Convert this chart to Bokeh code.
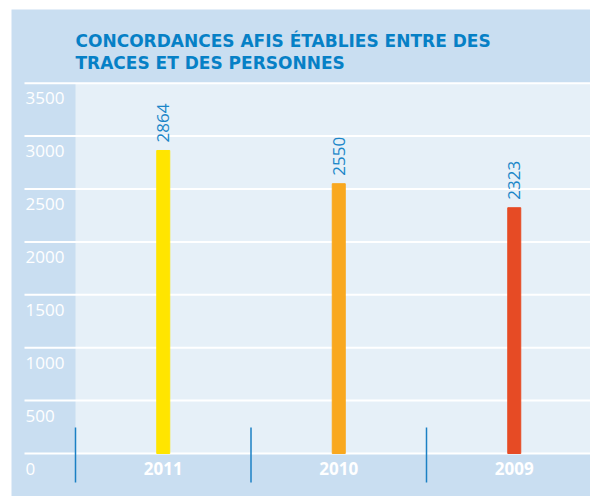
import numpy as np
from bokeh.plotting import figure
from bokeh.models import Range1d, ColumnDataSource
from bokeh.core.properties import value
from bokeh.embed import file_html
from bokeh.resources import INLINE

# ---- data ----
years = ["2011", "2010", "2009"]
counts = [2864, 2550, 2323]
bar_colors = ["#FFE500", "#F9A81F", "#E64B25"]
y_ticks = [0, 500, 1000, 1500, 2000, 2500, 3000, 3500]
title_lines = ["CONCORDANCES AFIS ÉTABLIES ENTRE DES", "TRACES ET DES PERSONNES"]

# ---- styling / layout constants ----
W, H = 590, 496
PX_X = 175.5          # pixels per category
PX_Y = 52.9 / 500     # pixels per unit
X0 = 75               # px of category boundary 0
Y0 = 453              # px (from top) of value 0
DARK = "#C9DEF1"
LIGHT = "#E6F0F8"
BLUE = "#1B80C4"
FONT = "Open Sans"

xr = Range1d(-X0 / PX_X, (W - X0) / PX_X)
yr = Range1d(-(H - Y0) / PX_Y, Y0 / PX_Y)

p = figure(width=W, height=H, x_range=xr, y_range=yr, output_backend="svg",
           toolbar_location=None, min_border=0, outline_line_color=None,
           background_fill_color="white", border_fill_color="white")
p.axis.visible = False
p.grid.visible = False

# dark box and light plot area
p.quad(left=[(11 - X0) / PX_X], right=[xr.end], bottom=[yr.start], top=[(Y0 - 9) / PX_Y],
       fill_color=DARK, line_color=None)
p.quad(left=[0], right=[xr.end], bottom=[0], top=[max(y_ticks)],
       fill_color=LIGHT, line_color=None)

# gridlines
gx0 = (24 - X0) / PX_X
p.segment(x0=[gx0] * len(y_ticks), x1=[xr.end] * len(y_ticks), y0=y_ticks, y1=y_ticks,
          line_color="white", line_width=2)

# y labels (below gridlines)
p.text(x=[(25 - X0) / PX_X] * len(y_ticks), y=y_ticks, text=[str(t) for t in y_ticks],
       text_font=value(FONT), text_font_size="17px", text_color="white",
       text_align="left", text_baseline="middle", y_offset=15)

# bars
xs = np.arange(len(years)) + 0.5
src = ColumnDataSource(dict(x=xs, top=counts, color=bar_colors, label=[str(c) for c in counts],
                            year=years))
p.vbar(x="x", top="top", bottom=0, width=13 / PX_X, color="color", source=src)

# value labels
p.text(x="x", y="top", text="label", source=src, angle=np.pi / 2,
       text_font=value(FONT), text_font_size="17px", text_color="#1B86C8",
       text_align="left", text_baseline="middle", y_offset=-8)

# category labels
p.text(x="x", y=0, text="year", source=src, text_font=value(FONT), text_font_size="17px",
       text_font_style="bold", text_color="white", text_align="center",
       text_baseline="middle", y_offset=15)

# separators
seps = np.arange(len(years))
p.segment(x0=seps, x1=seps, y0=[-29 / PX_Y] * len(seps), y1=[26 / PX_Y] * len(seps),
          line_color=BLUE, line_width=1.5)

# title
p.text(x=[0, 0], y=[(Y0 - 40) / PX_Y, (Y0 - 62.5) / PX_Y], text=title_lines,
       text_font=value("DejaVu Sans"), text_font_size="17px", text_font_style="bold",
       text_color="#0680C6", text_align="left", text_baseline="alphabetic")

open("out.html", "w").write(file_html(p, INLINE))
